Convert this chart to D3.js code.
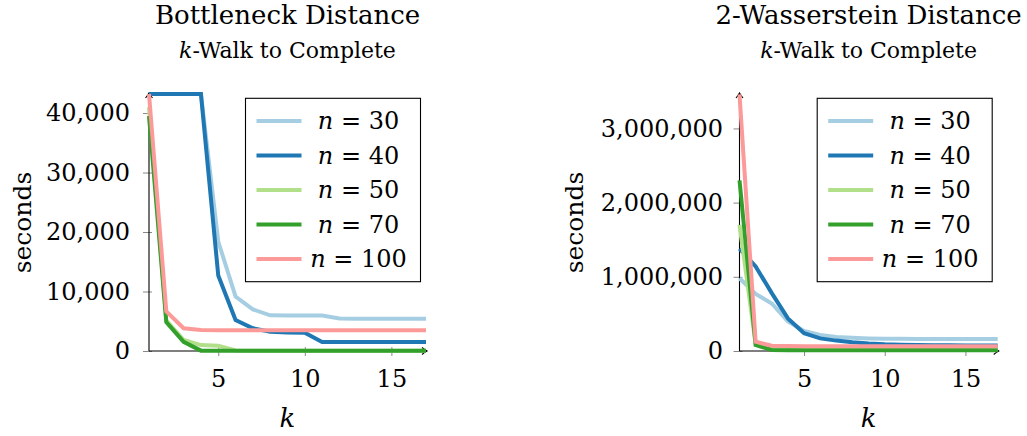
<!DOCTYPE html>
<html>
<head>
<meta charset="utf-8">
<script src="https://cdn.jsdelivr.net/npm/d3@7"></script>
<style>
  body { margin: 0; background: #fff; }
  svg text, svg tspan { font-family: "DejaVu Serif", serif; fill: #000; }
</style>
</head>
<body>
<div id="chart"></div>
<script>
// k on the x axis
const kValues = [1, 2, 3, 4, 5, 6, 7, 8, 9, 10, 11, 12, 13, 14, 15, 16, 17];
const kTicks = [5, 10, 15];

// legend
const nValues = [30, 40, 50, 70, 100];
const seriesColors = ["#a6cee3", "#1f78b4", "#b2df8a", "#33a02c", "#fb9a99"];

// Bottleneck distance, seconds (43200 = timeout)
const bottleneckN30  = [43200, 43200, 43200, 43200, 18400, 9150, 7000, 6000, 5950, 5950, 5950, 5450, 5430, 5430, 5430, 5430, 5430];
const bottleneckN40  = [43200, 43200, 43200, 43200, 12700, 5200, 3820, 3250, 3100, 3080, 1520, 1520, 1520, 1520, 1520, 1520, 1520];
const bottleneckN50  = [41000, 5100, 1850, 1000, 880, 100, 50, 50, 50, 50, 50, 50, 50, 50, 50, 50, 50];
const bottleneckN70  = [39500, 4850, 1550, 60, 30, 30, 30, 30, 30, 30, 30, 30, 30, 30, 30, 30, 30];
const bottleneckN100 = [43200, 6650, 3820, 3520, 3480, 3480, 3480, 3480, 3480, 3480, 3480, 3480, 3480, 3480, 3480, 3480, 3480];
const bottleneckTicks = [0, 10000, 20000, 30000, 40000];

// 2-Wasserstein distance, seconds
const wassersteinN30  = [980000, 770000, 640000, 400000, 270000, 215000, 190000, 178000, 170000, 166000, 164000, 163000, 163000, 163000, 163000, 163000, 163000];
const wassersteinN40  = [1380000, 1140000, 780000, 440000, 240000, 170000, 140000, 117000, 100000, 90000, 85000, 80000, 78000, 76000, 75000, 75000, 75000];
const wassersteinN50  = [1700000, 95000, 30000, 25000, 22000, 20000, 20000, 20000, 20000, 20000, 20000, 20000, 20000, 20000, 20000, 20000, 20000];
const wassersteinN70  = [2300000, 80000, 15000, 10000, 9000, 9000, 9000, 9000, 9000, 9000, 9000, 9000, 9000, 9000, 9000, 9000, 9000];
const wassersteinN100 = [3460000, 125000, 70000, 67000, 65000, 65000, 65000, 65000, 65000, 65000, 65000, 65000, 65000, 65000, 65000, 65000, 65000];
const wassersteinTicks = [0, 1000000, 2000000, 3000000];

const width = 1027, height = 436;
const serif = "'DejaVu Serif', serif";

const svg = d3.select("#chart").append("svg")
    .attr("width", width)
    .attr("height", height)
    .attr("font-family", serif);

// small open arrow tip for the axis lines
svg.append("defs").append("marker")
    .attr("id", "arrow")
    .attr("viewBox", "-6 -5 8 10")
    .attr("refX", 0).attr("refY", 0)
    .attr("markerWidth", 8).attr("markerHeight", 10)
    .attr("markerUnits", "userSpaceOnUse")
    .attr("orient", "auto")
    .append("path")
    .attr("d", "M-5,-3.5 Q-2,-1 0,0 Q-2,1 -5,3.5")
    .attr("fill", "none")
    .attr("stroke", "#000")
    .attr("stroke-width", 1.1);

function drawPanel(cfg) {
    const top = 94, bottom = 351;

    const x = d3.scaleLinear().domain([1, 17]).range([cfg.left, cfg.right]);
    const y = d3.scaleLinear().domain([0, cfg.yMax]).range([bottom, top]);
    const cx = (cfg.left + cfg.right) / 2;

    // titles
    svg.append("text")
        .attr("x", cx).attr("y", 24)
        .attr("text-anchor", "middle")
        .style("font-family", serif)
        .style("font-size", "26px")
        .text(cfg.title);

    const sub = svg.append("text")
        .attr("x", cx).attr("y", 58)
        .attr("text-anchor", "middle")
        .style("font-family", serif)
        .style("font-size", "22px");
    sub.append("tspan").style("font-family", serif).style("font-style", "italic").text("k");
    sub.append("tspan").style("font-family", serif).text("-Walk to Complete");

    // y axis
    const yAxis = d3.axisLeft(y)
        .tickValues(cfg.yTicks)
        .tickFormat(d3.format(","))
        .tickSize(6)
        .tickPadding(cfg.tickPad);

    const gy = svg.append("g")
        .attr("transform", `translate(${cfg.left},0)`)
        .call(yAxis)
        .attr("font-family", serif);
    gy.select(".domain").remove();
    gy.selectAll(".tick line").attr("x1", 3).attr("x2", -6).attr("stroke", "#888");
    gy.selectAll(".tick text").style("font-size", "24px").style("font-family", serif);

    // x axis
    const xAxis = d3.axisBottom(x)
        .tickValues(kTicks)
        .tickSize(5);

    const gx = svg.append("g")
        .attr("transform", `translate(0,${bottom})`)
        .call(xAxis)
        .attr("font-family", serif);
    gx.select(".domain").remove();
    gx.selectAll(".tick line").attr("y1", -4).attr("y2", 5).attr("stroke", "#888");
    gx.selectAll(".tick text")
        .attr("y", 36).attr("dy", 0)
        .style("font-size", "24px").style("font-family", serif);

    // axis lines with arrow tips
    svg.append("line")
        .attr("x1", cfg.left).attr("x2", cfg.left)
        .attr("y1", bottom).attr("y2", top - 1)
        .attr("stroke", "#000").attr("stroke-width", 1.1)
        .attr("marker-end", "url(#arrow)");
    svg.append("line")
        .attr("x1", cfg.left).attr("x2", cfg.right + 1)
        .attr("y1", bottom).attr("y2", bottom)
        .attr("stroke", "#000").attr("stroke-width", 1.1)
        .attr("marker-end", "url(#arrow)");

    // axis labels
    svg.append("text")
        .attr("transform", `translate(${cfg.left - cfg.yLabelOffset},${(top + bottom) / 2}) rotate(-90)`)
        .attr("text-anchor", "middle")
        .style("font-family", serif)
        .style("font-size", "25px")
        .text("seconds");

    svg.append("text")
        .attr("x", cx).attr("y", 427)
        .attr("text-anchor", "middle")
        .style("font-family", serif)
        .style("font-size", "26px")
        .style("font-style", "italic")
        .text("k");

    // series lines
    const line = d3.line()
        .x((d, i) => x(kValues[i]))
        .y(d => y(d));

    svg.append("g")
        .selectAll("path")
        .data(cfg.series)
        .join("path")
        .attr("d", d => line(d))
        .attr("fill", "none")
        .attr("stroke", (d, i) => seriesColors[i])
        .attr("stroke-width", 4);

    // legend
    const boxW = 175, boxH = 183.4;
    const bx = cfg.right - 5.5 - boxW, by = top + 4.3;
    const legend = svg.append("g");
    legend.append("rect")
        .attr("x", bx).attr("y", by)
        .attr("width", boxW).attr("height", boxH)
        .attr("fill", "#fff")
        .attr("stroke", "#000")
        .attr("stroke-width", 1.1);

    nValues.forEach((n, i) => {
        const ly = by + 22.7 + i * 34.5;
        legend.append("line")
            .attr("x1", bx + 11).attr("x2", bx + 56)
            .attr("y1", ly).attr("y2", ly)
            .attr("stroke", seriesColors[i])
            .attr("stroke-width", 4);
        const t = legend.append("text")
            .attr("x", bx + 113).attr("y", ly + 8.3)
            .attr("text-anchor", "middle")
            .style("font-family", serif)
            .style("font-size", "24px");
        t.append("tspan").style("font-family", serif).style("font-style", "italic").text("n");
        t.append("tspan").style("font-family", serif).text(" = " + n);
    });
}

drawPanel({
    title: "Bottleneck Distance",
    left: 149, right: 426,
    yMax: 43200,
    yTicks: bottleneckTicks,
    tickPad: 13,
    yLabelOffset: 118,
    series: [bottleneckN30, bottleneckN40, bottleneckN50, bottleneckN70, bottleneckN100]
});

drawPanel({
    title: "2-Wasserstein Distance",
    left: 739.5, right: 997.7,
    yMax: 3464000,
    yTicks: wassersteinTicks,
    tickPad: 10.5,
    yLabelOffset: 156.5,
    series: [wassersteinN30, wassersteinN40, wassersteinN50, wassersteinN70, wassersteinN100]
});
</script>
</body>
</html>
